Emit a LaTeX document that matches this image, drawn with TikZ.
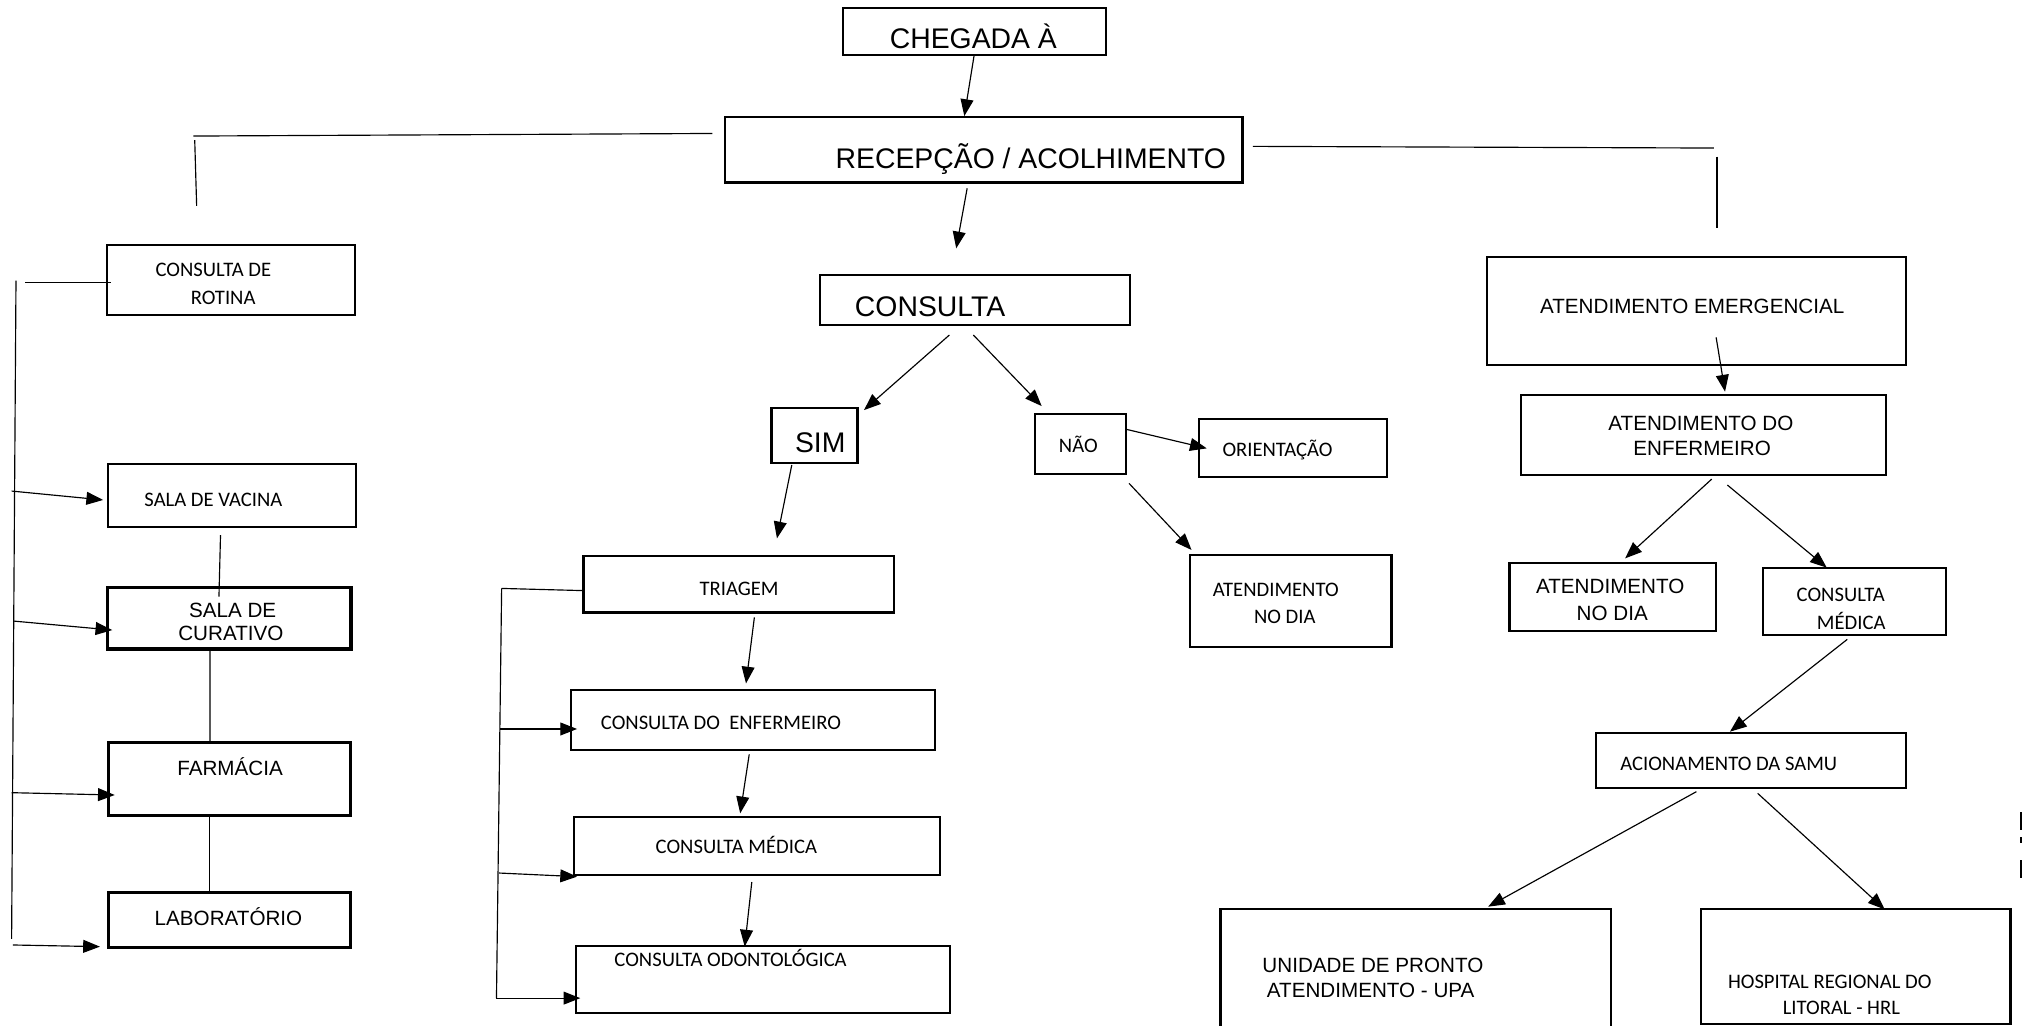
\documentclass[tikz,border=0pt]{standalone}
\usepackage{fontspec}
\usetikzlibrary{arrows.meta}
\newfontfamily\arialf{Liberation Sans}
\newfontfamily\calf{Carlito}
\tikzset{
  box/.style={draw=black, line width=1.7pt, inner sep=0pt, outer sep=0pt, rectangle},
  thickbox/.style={line width=2.4pt},
  conn/.style={line width=0.9pt, draw=black},
  arr/.style={conn, -{Triangle[length=13pt,width=10pt]}},
  big/.style={font=\arialf\fontsize{22}{26}\selectfont},
  mid/.style={font=\arialf\fontsize{16}{19}\selectfont},
  sml/.style={font=\calf\fontsize{16}{19}\selectfont},
  lbl/.style={anchor=base west, inner sep=0pt, outer sep=0pt},
}
% box by corners (x1,y1) (x2,y2), y measured downwards
\newcommand\mybox[6][]{%
  \node[box,#1,minimum width=\fpeval{#5-#3}pt,minimum height=\fpeval{#6-#4}pt] (#2) at ({(#3+#5)/2},{(#4+#6)/2}) {};%
  \expandafter\xdef\csname bx-#2\endcsname{\fpeval{(#3+#5)/2}}%
  \expandafter\xdef\csname by-#2\endcsname{\fpeval{(#4+#6)/2}}%
}
% point given in picture coordinates, expressed relative to a box node
\newcommand\rel[3]{([shift={({#2-\csname bx-#1\endcsname},{#3-\csname by-#1\endcsname})}]#1.center)}
\newcommand\txt[5]{\node[lbl,#1] (#2) at (#3,#4) {#5};}

\begin{document}
\begin{tikzpicture}[x=1pt,y=-1pt]
\fill[white] (0,0) rectangle (1568,795);
\useasboundingbox (0,0) rectangle (1568,795);

% ---------------- boxes ----------------
\mybox{chegada}{654}{6}{857.5}{42.7}
\mybox{recepcao}{562.5}{91}{963.5}{141.5}
\mybox{consulta}{636}{213.3}{876.3}{252}
\mybox{sim}{598.3}{316.7}{665}{359}
\mybox{nao}{802.6}{321}{873.2}{367.6}
\mybox{orient}{930}{325}{1075.5}{369.6}
\mybox{dia1}{922.5}{430.4}{1079}{501.5}
\mybox{triagem}{452.5}{431.2}{693.5}{475}
\mybox{cde}{442.5}{535}{725}{581.6}
\mybox{cmed1}{445}{633.8}{729}{678.6}
\mybox{odonto}{446.5}{733.6}{736.5}{785.8}
\mybox{rotina}{82.7}{190}{275.3}{244.3}
\mybox{vacina}{84}{360}{275.8}{408.4}
\mybox[thickbox]{curativo}{83.5}{455.5}{272.2}{503.3}
\mybox[thickbox]{farmacia}{84}{576}{271.5}{632.6}
\mybox[thickbox]{lab}{84}{692.3}{271.5}{735}
\mybox{emerg}{1153.4}{199.5}{1478.1}{283}
\mybox{enf}{1179.5}{306.3}{1462.6}{368.4}
\mybox{dia2}{1170.5}{436.3}{1330.8}{489.1}
\mybox{cmed2}{1367.4}{440.7}{1509.1}{492.4}
\mybox{samu}{1237.5}{568.2}{1478}{610.8}
\mybox{upa}{946.5}{705}{1249}{830}
\mybox{hrl}{1319}{705.2}{1559}{794}

% ---------------- texts ----------------
\txt{big}{t-chegada}{690}{37.5}{CHEGADA À}
\txt{big}{t-recepcao}{648}{130.5}{RECEPÇÃO / ACOLHIMENTO}
\txt{big}{t-consulta}{663}{245.6}{CONSULTA}
\txt{big}{t-sim}{616.5}{351}{SIM}

\txt{mid}{t-cur1}{146.6}{478.7}{SALA DE}
\txt{mid}{t-cur2}{138.3}{496.8}{CURATIVO}
\txt{mid}{t-farm}{137.5}{601}{FARMÁCIA}
\txt{mid}{t-lab}{120}{717.3}{LABORATÓRIO}
\txt{mid}{t-emerg}{1194.3}{243}{ATENDIMENTO EMERGENCIAL}
\txt{mid}{t-enf1}{1247.3}{334.2}{ATENDIMENTO DO}
\txt{mid}{t-enf2}{1266.6}{353.4}{ENFERMEIRO}
\txt{mid}{t-dia2a}{1191.2}{460.6}{ATENDIMENTO}
\txt{mid}{t-dia2b}{1222.7}{480.8}{NO DIA}
\txt{mid}{t-upa1}{979}{754.3}{UNIDADE DE PRONTO}
\txt{mid}{t-upa2}{982.5}{773.4}{ATENDIMENTO - UPA}

\txt{sml}{t-rot1}{120.7}{214.5}{CONSULTA DE}
\txt{sml}{t-rot2}{148}{235.8}{ROTINA}
\txt{sml}{t-vac}{112}{392.4}{SALA DE VACINA}
\txt{sml}{t-nao}{821.2}{351}{NÃO}
\txt{sml}{t-orient}{948}{354}{ORIENTAÇÃO}
\txt{sml}{t-dia1a}{940.5}{462.7}{ATENDIMENTO}
\txt{sml}{t-dia1b}{972.5}{483.4}{NO DIA}
\txt{sml}{t-triagem}{542.5}{461.4}{TRIAGEM}
\txt{sml}{t-cde}{466}{566}{CONSULTA DO\ \ ENFERMEIRO}
\txt{sml}{t-cmed1}{508.5}{661.8}{CONSULTA MÉDICA}
\txt{sml}{t-odonto}{476.5}{749.7}{CONSULTA ODONTOLÓGICA}
\txt{sml}{t-cmed2a}{1393.3}{466.6}{CONSULTA}
\txt{sml}{t-cmed2b}{1409}{488}{MÉDICA}
\txt{sml}{t-samu}{1256.5}{597.6}{ACIONAMENTO DA SAMU}
\txt{sml}{t-hrl1}{1340}{766.4}{HOSPITAL REGIONAL DO}
\txt{sml}{t-hrl2}{1382.5}{786.6}{LITORAL - HRL}

% ---------------- free ends ----------------
\coordinate (tl1) at (150,105.5);
\coordinate (tl2) at (151,108.6);
\coordinate (tl3) at (152.5,159.7);
\coordinate (tr1) at (1329,114.8);
\coordinate (tr2) at (1331.5,121.5);
\coordinate (tr3) at (1331.5,177);
\coordinate (lTop) at (12.4,217.7);
\coordinate (lBot) at (9,728);
\coordinate (lRot) at (19.4,219.2);
\coordinate (l1) at (9,380.8);
\coordinate (l2) at (10.3,481.6);
\coordinate (l3) at (9,614.7);
\coordinate (l4) at (10,732.8);
\coordinate (mTop) at (389,456.3);
\coordinate (mBot) at (385,774);
\coordinate (m1) at (388,565.3);
\coordinate (m2) at (387,677);

% ---------------- top branches ----------------
\draw[conn] (tl1) -- \rel{recepcao}{552.5}{103.5};
\draw[conn] (tl2) -- (tl3);
\draw[conn] \rel{recepcao}{971.5}{113.5} -- (tr1);
\draw[conn] (tr2) -- (tr3);

% ---------------- central flow ----------------
\draw[arr] \rel{chegada}{755.3}{43.5} -- \rel{recepcao}{747.8}{90};
\draw[arr] \rel{recepcao}{750}{146} -- \rel{consulta}{741.5}{192.6};
\draw[arr] \rel{consulta}{736.2}{259.8} -- \rel{sim}{670}{318};
\draw[arr] \rel{consulta}{754.8}{259.8} -- \rel{nao}{807.8}{314.9};
\draw[arr] \rel{nao}{873.7}{333} -- \rel{orient}{935.8}{347.7};
\draw[arr] \rel{nao}{875.5}{374.8} -- \rel{dia1}{924}{426.5};
\draw[arr] \rel{sim}{614}{360.6} -- \rel{triagem}{602.5}{417.5};
\draw[arr] \rel{triagem}{585}{478.7} -- \rel{cde}{578.5}{530};
\draw[arr] \rel{cde}{581}{585} -- \rel{cmed1}{574}{630.7};
\draw[arr] \rel{cmed1}{583}{684} -- \rel{odonto}{577.5}{734};

% middle bracket
\draw[conn] (mTop) -- (mBot);
\draw[conn] (mTop) -- \rel{triagem}{452.5}{458};
\draw[arr] (m1) -- \rel{cde}{447.5}{565.3};
\draw[arr] (m2) -- \rel{cmed1}{447.5}{679.8};
\draw[arr] (mBot) -- \rel{odonto}{450}{774};

% ---------------- left column ----------------
\draw[conn] (lTop) -- (lBot);
\draw[conn] (lRot) -- \rel{rotina}{86}{219.2};
\draw[arr] (l1) -- \rel{vacina}{80}{387.7};
\draw[arr] (l2) -- \rel{curativo}{87.1}{488.6};
\draw[arr] (l3) -- \rel{farmacia}{89}{616.5};
\draw[arr] (l4) -- \rel{lab}{77.5}{734.1};
\draw[conn] \rel{vacina}{171}{414.9} -- \rel{curativo}{169.8}{462.7};
\draw[conn] \rel{curativo}{162.9}{503.3} -- \rel{farmacia}{162.9}{576};
\draw[conn] \rel{farmacia}{162.5}{632.6} -- \rel{lab}{162.5}{692.3};

% ---------------- right column ----------------
\draw[arr] \rel{emerg}{1330.8}{261.6} -- \rel{enf}{1337.7}{303.7};
\draw[arr] \rel{enf}{1327.4}{371.5} -- \rel{dia2}{1260.2}{433};
\draw[arr] \rel{enf}{1339.5}{376.1} -- \rel{cmed2}{1416.6}{440.2};
\draw[arr] \rel{cmed2}{1432.5}{495.8} -- \rel{samu}{1341.5}{567.4};
\draw[arr] \rel{samu}{1315.5}{613.9} -- \rel{upa}{1154}{703.1};
\draw[arr] \rel{samu}{1363}{615.2} -- \rel{hrl}{1461.5}{705.2};

% cut-off marks at the right edge
\fill (1566.8,630) rectangle (1568,644);
\fill (1566.8,649) rectangle (1568,654);
\fill (1566.8,667) rectangle (1568,681);
\end{tikzpicture}
\end{document}
